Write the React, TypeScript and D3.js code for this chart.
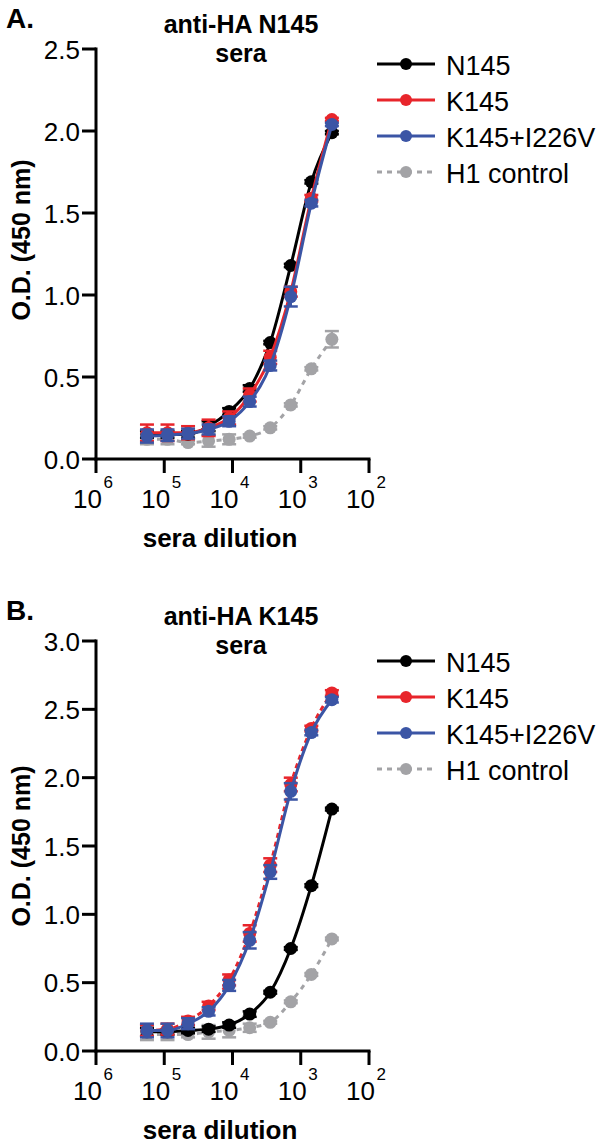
import React from "react";
import * as d3 from "d3";

// ---- data ----
const dilutions = [179200, 89600, 44800, 22400, 11200, 5600, 2800, 1400, 700, 350];
const xTickExponents = [6, 5, 4, 3, 2];
const seriesNames = ["N145", "K145", "K145+I226V", "H1 control"];

// Panel A: anti-HA N145 sera
const aN145 = [0.15, 0.15, 0.15, 0.2, 0.29, 0.43, 0.71, 1.18, 1.69, 1.99];
const aK145 = [0.16, 0.16, 0.16, 0.19, 0.25, 0.39, 0.62, 1.02, 1.59, 2.07];
const aK145I = [0.14, 0.145, 0.155, 0.18, 0.23, 0.35, 0.57, 0.99, 1.56, 2.04];
const aH1 = [0.12, 0.12, 0.1, 0.11, 0.12, 0.14, 0.19, 0.33, 0.55, 0.73];
const aN145Err = [0.02, 0.02, 0.02, 0.03, 0.02, 0.02, 0.01, 0.01, 0.01, 0.01];
const aK145Err = [0.05, 0.05, 0.04, 0.05, 0.04, 0.04, 0.04, 0.03, 0.02, 0.01];
const aK145IErr = [0.04, 0.035, 0.03, 0.03, 0.03, 0.03, 0.03, 0.06, 0.02, 0.01];
const aH1Err = [0.03, 0.03, 0.01, 0.035, 0.03, 0.01, 0.01, 0.01, 0.01, 0.05];
const aYTicks = [0, 0.5, 1.0, 1.5, 2.0, 2.5];

// Panel B: anti-HA K145 sera
const bN145 = [0.14, 0.14, 0.15, 0.16, 0.19, 0.27, 0.43, 0.75, 1.21, 1.77];
const bK145 = [0.15, 0.16, 0.22, 0.33, 0.52, 0.86, 1.36, 1.95, 2.36, 2.62];
const bK145I = [0.15, 0.15, 0.2, 0.29, 0.48, 0.81, 1.31, 1.9, 2.33, 2.57];
const bH1 = [0.12, 0.12, 0.12, 0.14, 0.15, 0.17, 0.21, 0.36, 0.56, 0.82];
const bN145Err = [0.03, 0.02, 0.02, 0.02, 0.02, 0.02, 0.01, 0.01, 0.01, 0.01];
const bK145Err = [0.04, 0.04, 0.03, 0.03, 0.04, 0.06, 0.05, 0.05, 0.02, 0.02];
const bK145IErr = [0.05, 0.05, 0.04, 0.03, 0.04, 0.06, 0.05, 0.06, 0.02, 0.02];
const bH1Err = [0.04, 0.04, 0.02, 0.05, 0.05, 0.03, 0.01, 0.01, 0.01, 0.01];
const bYTicks = [0, 0.5, 1.0, 1.5, 2.0, 2.5, 3.0];

// ---- styles ----
const COLORS = ["#000000", "#E8252B", "#3B55A5", "#A3A3A6"];
const FONT = "'Liberation Sans', Arial, Helvetica, sans-serif";

type Series = { name: string; values: number[]; errs: number[]; color: string; lineDash?: string };

function Panel({
  oy,
  letter,
  titleLine1,
  yMax,
  yTicks,
  series,
  legendTop,
  yTitleCenter,
}: {
  oy: number;
  letter: string;
  titleLine1: string;
  yMax: number;
  yTicks: number[];
  series: Series[];
  legendTop: number;
  yTitleCenter: number;
}) {
  const x0 = 96,
    x1 = 369;
  const yBottom = 459,
    yTop = 49;
  const x = d3.scaleLog().domain([1e6, 1e2]).range([x0, x1]);
  const y = d3.scaleLinear().domain([0, yMax]).range([yBottom, yTop]);
  const line = d3
    .line<[number, number]>()
    .x((d) => d[0])
    .y((d) => d[1])
    .curve(d3.curveMonotoneX);

  return (
    <g transform={`translate(0,${oy})`}>
      <text x={6} y={28} fontFamily={FONT} fontWeight="bold" fontSize={28}>
        {letter}
      </text>
      <text x={241} y={33} textAnchor="middle" fontFamily={FONT} fontWeight="bold" fontSize={25}>
        {titleLine1}
      </text>
      <text x={241} y={62} textAnchor="middle" fontFamily={FONT} fontWeight="bold" fontSize={25}>
        sera
      </text>

      {/* axes */}
      <line x1={x0} x2={x0} y1={yBottom + 1.5} y2={yTop - 1.5} stroke="#000" strokeWidth={3} />
      <line x1={x0 - 1.5} x2={x1 + 1.5} y1={yBottom} y2={yBottom} stroke="#000" strokeWidth={3} />
      {yTicks.map((t) => (
        <g key={"yt" + t}>
          <line x1={x0 - 14} x2={x0} y1={y(t)} y2={y(t)} stroke="#000" strokeWidth={3} />
          <text x={80} y={y(t) + 9.5} textAnchor="end" fontFamily={FONT} fontSize={26}>
            {d3.format(".1f")(t)}
          </text>
        </g>
      ))}
      {xTickExponents.map((e) => {
        const xv = x(Math.pow(10, e));
        return (
          <g key={"xt" + e}>
            <line x1={xv} x2={xv} y1={yBottom} y2={yBottom + 14} stroke="#000" strokeWidth={3} />
            <text x={xv + 6} y={508} textAnchor="end" fontFamily={FONT} fontSize={26}>
              10
            </text>
            <text x={xv + 7.5} y={488} fontFamily={FONT} fontSize={17}>
              {e}
            </text>
          </g>
        );
      })}
      <text x={220} y={547} textAnchor="middle" fontFamily={FONT} fontWeight="bold" fontSize={26}>
        sera dilution
      </text>
      <text
        transform={`translate(30,${yTitleCenter}) rotate(-90)`}
        textAnchor="middle"
        fontFamily={FONT}
        fontWeight="bold"
        fontSize={25}
      >
        O.D. (450 nm)
      </text>

      {/* series */}
      {series.map((s, si) => {
        const pts: [number, number][] = dilutions.map((dl, i) => [x(dl), y(s.values[i])]);
        return (
          <g key={"s" + si}>
            <path
              d={line(pts) || ""}
              fill="none"
              stroke={s.color}
              strokeWidth={3}
              strokeDasharray={s.lineDash}
            />
            {dilutions.map((dl, i) => {
              const cx = x(dl);
              const top = y(s.values[i] + s.errs[i]);
              const bot = y(s.values[i] - s.errs[i]);
              return (
                <g key={"e" + i} stroke={s.color} strokeWidth={2.5}>
                  <line x1={cx} x2={cx} y1={top} y2={bot} />
                  <line x1={cx - 7} x2={cx + 7} y1={top} y2={top} />
                  <line x1={cx - 7} x2={cx + 7} y1={bot} y2={bot} />
                </g>
              );
            })}
            {dilutions.map((dl, i) => (
              <circle key={"c" + i} cx={x(dl)} cy={y(s.values[i])} r={6.5} fill={s.color} />
            ))}
          </g>
        );
      })}

      {/* legend */}
      {series
        .slice()
        .sort((a, b) => seriesNames.indexOf(a.name) - seriesNames.indexOf(b.name))
        .map((s, i) => {
          const ly = legendTop + i * 36;
          return (
            <g key={"l" + i}>
              <line
                x1={377}
                x2={435}
                y1={ly}
                y2={ly}
                stroke={s.color}
                strokeWidth={3}
                strokeDasharray={s.name === "H1 control" ? "5,5" : undefined}
              />
              <circle cx={406} cy={ly} r={6} fill={s.color} />
              <text x={446} y={ly + 11} fontFamily={FONT} fontSize={27}>
                {s.name}
              </text>
            </g>
          );
        })}
    </g>
  );
}

export default function App() {
  const seriesA: Series[] = [
    { name: "H1 control", values: aH1, errs: aH1Err, color: COLORS[3], lineDash: "5,5" },
    { name: "N145", values: aN145, errs: aN145Err, color: COLORS[0] },
    { name: "K145", values: aK145, errs: aK145Err, color: COLORS[1] },
    { name: "K145+I226V", values: aK145I, errs: aK145IErr, color: COLORS[2] },
  ];
  const seriesB: Series[] = [
    { name: "H1 control", values: bH1, errs: bH1Err, color: COLORS[3], lineDash: "5,5" },
    { name: "N145", values: bN145, errs: bN145Err, color: COLORS[0] },
    { name: "K145", values: bK145, errs: bK145Err, color: COLORS[1], lineDash: "5,4" },
    { name: "K145+I226V", values: bK145I, errs: bK145IErr, color: COLORS[2] },
  ];
  return (
    <svg
      width={600}
      height={1147}
      viewBox="0 0 600 1147"
      style={{ position: "absolute", left: 0, top: 0, background: "#fff" }}
    >
      <rect width={600} height={1147} fill="#fff" />
      <Panel
        oy={0}
        letter="A."
        titleLine1="anti-HA N145"
        yMax={2.5}
        yTicks={aYTicks}
        series={seriesA}
        legendTop={64}
        yTitleCenter={240}
      />
      <Panel
        oy={592}
        letter="B."
        titleLine1="anti-HA K145"
        yMax={3.0}
        yTicks={bYTicks}
        series={seriesB}
        legendTop={69}
        yTitleCenter={254}
      />
    </svg>
  );
}
